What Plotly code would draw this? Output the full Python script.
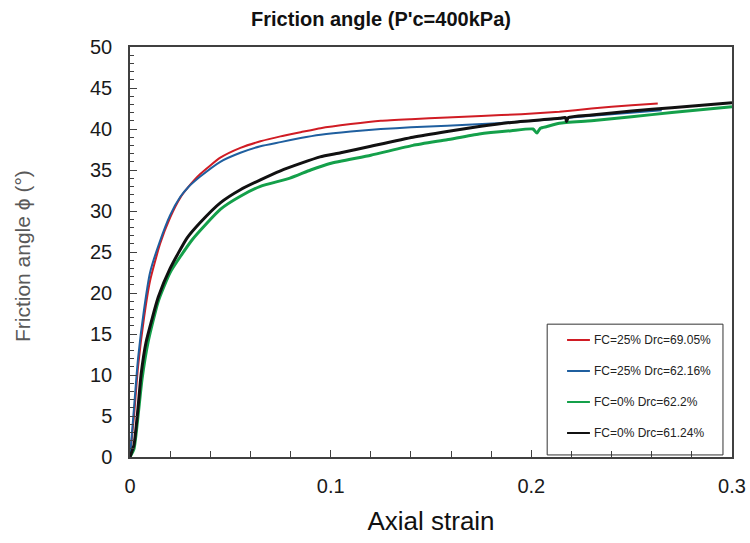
import plotly.graph_objects as go

# Axial strain vs friction angle for four triaxial tests (P'c = 400 kPa)
red_x = [0, 0.002, 0.004, 0.007, 0.010, 0.015, 0.020, 0.025, 0.029, 0.035, 0.045, 0.055,
         0.065, 0.075, 0.085, 0.095, 0.110, 0.125, 0.140, 0.158, 0.175, 0.195, 0.214,
         0.230, 0.250, 0.263]
red_y = [0, 5, 11, 17, 21.5, 26, 29.2, 31.6, 32.9, 34.5, 36.5, 37.7,
         38.5, 39.1, 39.6, 40.1, 40.6, 41.0, 41.2, 41.4, 41.6, 41.8, 42.1,
         42.5, 42.9, 43.1]

blue_x = [0, 0.002, 0.004, 0.007, 0.010, 0.0146, 0.020, 0.025, 0.029, 0.035, 0.045, 0.055,
          0.065, 0.075, 0.085, 0.095, 0.110, 0.125, 0.140, 0.158, 0.183, 0.200, 0.220,
          0.240, 0.265]
blue_y = [0, 6, 12, 18, 22.5, 26.1, 29.5, 31.7, 32.9, 34.2, 36.0, 37.1,
          37.9, 38.4, 38.9, 39.3, 39.7, 40.0, 40.2, 40.4, 40.7, 41.0, 41.4,
          41.8, 42.3]

green_x = [0, 0.002, 0.004, 0.006, 0.009, 0.0141, 0.020, 0.031, 0.045, 0.055, 0.065, 0.0797,
           0.090, 0.0997, 0.120, 0.141, 0.158, 0.174, 0.190, 0.2008, 0.2028, 0.2045, 0.2078,
           0.214, 0.230, 0.250, 0.270, 0.300]
green_y = [0, 1, 5, 9.5, 14, 19, 22.5, 26.5, 30.2, 31.8, 33.0, 34.0,
           35.0, 35.8, 36.8, 38.0, 38.7, 39.4, 39.8, 40.0, 39.5, 40.1, 40.3,
           40.7, 41.0, 41.5, 42.0, 42.7]

black_x = [0, 0.002, 0.004, 0.0055, 0.008, 0.0141, 0.020, 0.0284, 0.035, 0.045, 0.055, 0.065,
           0.075, 0.085, 0.0947, 0.105, 0.120, 0.141, 0.158, 0.174, 0.190, 0.214, 0.217,
           0.2175, 0.2185, 0.230, 0.250, 0.270, 0.300]
black_y = [0, 1.5, 6, 10, 14, 19.5, 23, 26.7, 28.6, 31.0, 32.6, 33.8,
           34.9, 35.8, 36.6, 37.1, 37.9, 39.0, 39.7, 40.3, 40.8, 41.3, 41.4,
           40.9, 41.4, 41.7, 42.2, 42.6, 43.2]

series = [
    ("FC=25% Drc=69.05%", red_x, red_y, "#d01c24", 2),
    ("FC=25% Drc=62.16%", blue_x, blue_y, "#1f5f9f", 2),
    ("FC=0% Drc=62.2%", green_x, green_y, "#14a04a", 3),
    ("FC=0% Drc=61.24%", black_x, black_y, "#111111", 3),
]

fig = go.Figure()
for name, xs, ys, color, w in series:
    fig.add_trace(go.Scatter(
        x=xs, y=ys, mode="lines", name=name, showlegend=False,
        line=dict(color=color, width=w, shape="spline", smoothing=0.5),
    ))

axis_line = "#404040"
fig.update_layout(
    width=750, height=543,
    paper_bgcolor="white", plot_bgcolor="white",
    margin=dict(l=130, r=18, t=47, b=86),
    font=dict(family="Liberation Sans, Arial, sans-serif", color="#1a1a1a"),
    title=dict(text="<b>Friction angle (P'c=400kPa)</b>", x=0.508, xanchor="center",
               y=0.965, yanchor="middle", font=dict(size=20, color="#111111")),
    showlegend=False,
    xaxis=dict(
        range=[0, 0.3], tickvals=[0, 0.1, 0.2, 0.3], ticktext=["0", "0.1", "0.2", "0.3"],
        ticks="inside", ticklen=7, tickwidth=1, tickcolor=axis_line,
        minor=dict(dtick=0.02, ticks="inside", ticklen=6, tickwidth=1, tickcolor=axis_line),
        showline=True, linecolor=axis_line, linewidth=1.5, mirror=True,
        showgrid=False, zeroline=False, automargin=False,
        tickfont=dict(size=20), ticklabelstandoff=10,
        title=dict(text="Axial strain", font=dict(size=26, color="#111111"), standoff=16),
    ),
    yaxis=dict(
        range=[0, 50], dtick=5,
        ticks="inside", ticklen=7, tickwidth=1, tickcolor=axis_line,
        minor=dict(dtick=1, ticks="inside", ticklen=4, tickwidth=1, tickcolor=axis_line),
        showline=True, linecolor=axis_line, linewidth=1.5, mirror=True,
        showgrid=False, zeroline=False, automargin=False,
        tickfont=dict(size=20), ticklabelstandoff=12,
    ),
)

# Y-axis title, rotated and centred on the plot height
fig.add_annotation(xref="paper", yref="paper", x=-0.1794, y=0.49,
                   xanchor="center", yanchor="middle", textangle=-90, showarrow=False,
                   text="Friction angle \u03d5 (\u00b0)", font=dict(size=21, color="#595959"))

# Legend: framed box in the lower right of the plot, one row per series
fig.add_shape(type="rect", xref="paper", yref="paper",
              x0=0.693, x1=0.985, y0=0.005, y1=0.324,
              line=dict(color="#333333", width=1), fillcolor="rgba(0,0,0,0)")
row_y = [0.2854, 0.2098, 0.1341, 0.0585]
for (name, _, _, color, _), ry in zip(series, row_y):
    fig.add_shape(type="line", xref="paper", yref="paper",
                  x0=0.726, x1=0.764, y0=ry, y1=ry,
                  line=dict(color=color, width=2))
    fig.add_annotation(xref="paper", yref="paper", x=0.767, y=ry,
                       xanchor="left", yanchor="middle", showarrow=False,
                       text=name, font=dict(size=12, color="#222222"))

fig.write_html("out.html")
